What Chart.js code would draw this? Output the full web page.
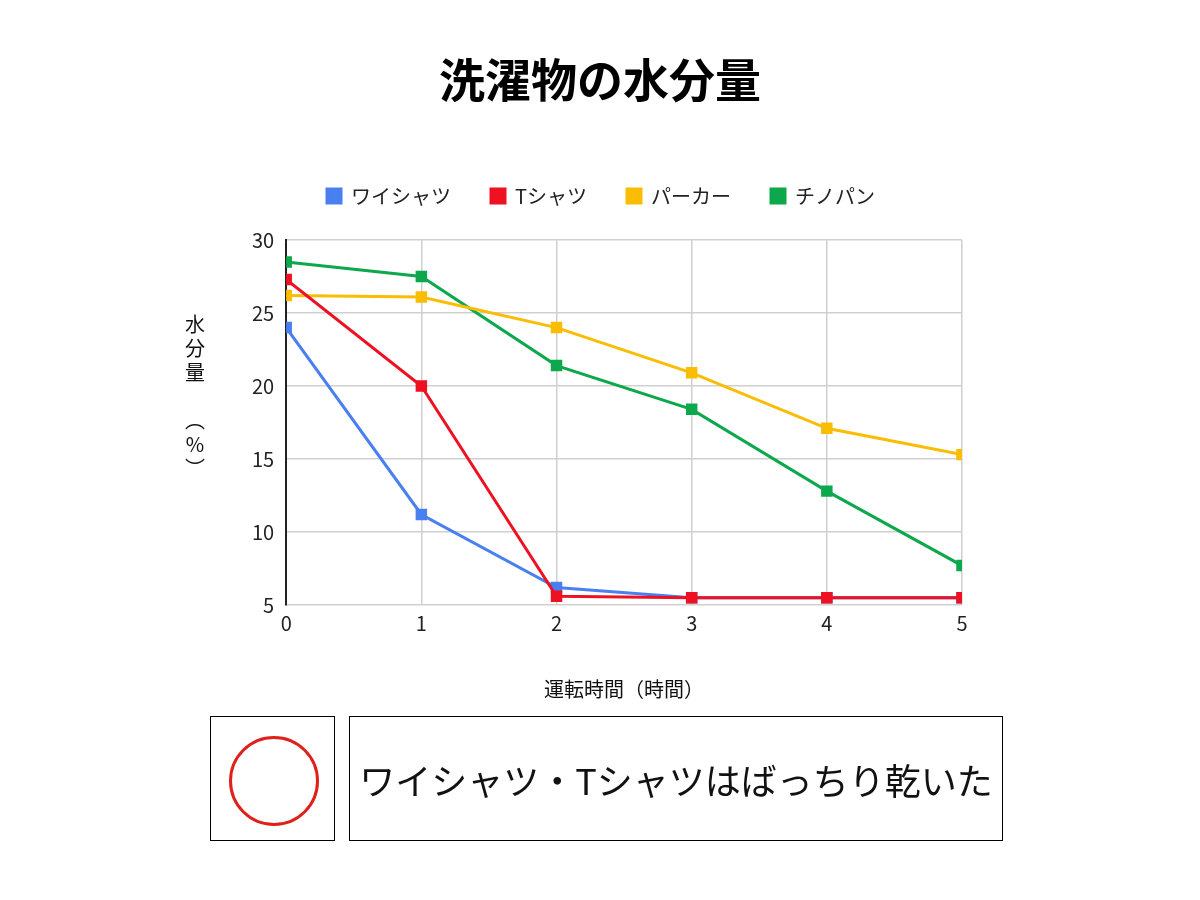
<!DOCTYPE html>
<html><head><meta charset="utf-8">
<script src="https://cdn.jsdelivr.net/npm/chart.js@4"></script>
<style>
body{margin:0;background:#fff;font-family:"Noto Sans CJK JP",sans-serif;}
#wrap{position:absolute;left:0;top:0;width:1200px;height:900px;}
h1{position:absolute;left:0;width:1200px;top:50px;margin:0;text-align:center;font-size:46px;font-weight:bold;color:#000;line-height:1.2;}
#yt{position:absolute;left:182px;top:312px;width:26px;font-size:20px;line-height:24px;text-align:center;color:#111;}
.box{position:absolute;border:1.5px solid #000;box-sizing:border-box;}
#b1{left:210px;top:716px;width:125px;height:125px;}
#circ{position:absolute;left:18px;top:19px;width:84px;height:84px;border:3px solid #e0201b;border-radius:50%;}
#b2{left:349px;top:716px;width:654px;height:125px;font-size:36px;display:flex;align-items:center;justify-content:center;color:#111;}
</style></head><body>
<div id="wrap"><canvas id="c" width="1200" height="900"></canvas></div>
<h1>洗濯物の水分量</h1>
<div id="yt">水<br>分<br>量<br><br>︵<br>%<br>︶</div>
<div class="box" id="b1"><div id="circ"></div></div>
<div class="box" id="b2">ワイシャツ・Tシャツはばっちり乾いた</div>
<script>
const hours=[0,1,2,3,4,5];
const shirt=[24,11.2,6.2,5.5,5.5,5.5];
const tshirt=[27.3,20,5.6,5.5,5.5,5.5];
const parka=[26.2,26.1,24,20.9,17.1,15.3];
const chino=[28.5,27.5,21.4,18.4,12.8,7.7];
const names=['ワイシャツ','Tシャツ','パーカー','チノパン'];
const colors=['#4a7ff0','#ee1122','#fbbc04','#0da84c'];
const orders=[3,0,1,2];
const series=[shirt,tshirt,parka,chino];
const ds=series.map((s,i)=>({label:names[i],order:orders[i],data:s.map((v,j)=>({x:hours[j],y:v})),borderColor:colors[i],backgroundColor:colors[i],borderWidth:3,pointStyle:'rect',pointRadius:6,pointHoverRadius:6,tension:0}));
const F="'Noto Sans CJK JP', sans-serif";
const legendGap={id:'legendGap',beforeInit(chart){const f=chart.legend.fit;chart.legend.fit=function(){f.bind(chart.legend)();this.height+=24;};}};
new Chart(document.getElementById('c'),{type:'line',data:{datasets:ds},plugins:[legendGap],
options:{responsive:false,animation:false,
layout:{padding:{left:240,right:238,top:146,bottom:195}},
plugins:{legend:{position:'top',labels:{usePointStyle:true,pointStyle:'rect',boxWidth:14,boxHeight:14,padding:40,color:'#222',font:{family:F,size:20},sort:(a,b)=>a.datasetIndex-b.datasetIndex}},tooltip:{enabled:false}},
scales:{
x:{type:'linear',min:0,max:5,ticks:{stepSize:1,color:'#222',font:{family:F,size:20},padding:6},grid:{color:'#d0d0d0',lineWidth:1.5,drawTicks:false},border:{display:false},
 title:{display:true,text:'運転時間（時間）',color:'#111',font:{family:F,size:20},padding:{top:36}}},
y:{min:5,max:30,ticks:{stepSize:5,color:'#222',font:{family:F,size:20},padding:12},grid:{color:'#d0d0d0',lineWidth:1.5,drawTicks:false},border:{display:true,color:'#222',width:2}}
}}});
</script></body></html>
